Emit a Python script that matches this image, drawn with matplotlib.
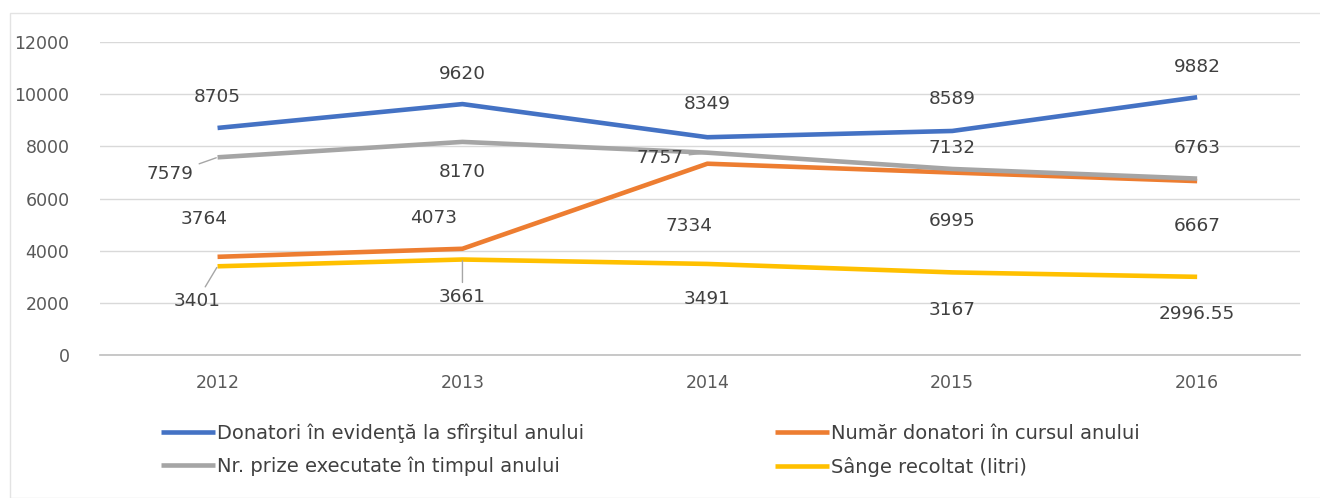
import matplotlib.pyplot as plt
from matplotlib.patches import Rectangle

years = ["2012", "2013", "2014", "2015", "2016"]
donatori_evidenta = [8705, 9620, 8349, 8589, 9882]
numar_donatori = [3764, 4073, 7334, 6995, 6667]
nr_prize = [7579, 8170, 7757, 7132, 6763]
sange_litri = [3401, 3661, 3491, 3167, 2996.55]
yticks = [0, 2000, 4000, 6000, 8000, 10000, 12000]

series = [
    ("Donatori în evidenţă la sfîrşitul anului", donatori_evidenta, "#4472C4"),
    ("Număr donatori în cursul anului", numar_donatori, "#ED7D31"),
    ("Nr. prize executate în timpul anului", nr_prize, "#A5A5A5"),
    ("Sânge recoltat (litri)", sange_litri, "#FFC000"),
]

# label offsets in points (dx, dy) and whether a leader line is drawn
offsets = {
    0: [(0, 22, 0), (0, 22, 0), (0, 24, 0), (0, 23, 0), (0, 22, 0)],
    1: [(-10, 27, 0), (-21, 22, 0), (-13, -45, 0), (0, -35, 0), (0, -32, 0)],
    2: [(-34, -12, 1), (0, -22, 0), (-34, -4, 1), (0, 15, 0), (0, 22, 0)],
    3: [(-15, -25, 1), (0, -27, 1), (0, -25, 0), (0, -27, 0), (0, -27, 0)],
}

plt.rcParams['font.family'] = ['DejaVu Sans']

fig = plt.figure(figsize=(13.2, 4.98), dpi=100)
fig.patches.append(Rectangle((10 / 1320, 0), 1.0, 1 - 13 / 498, transform=fig.transFigure,
                             fill=False, edgecolor="#e3e3e3", linewidth=1))
ax = fig.add_axes([100 / 1320, 1 - 355 / 498, 1200 / 1320, 313 / 498])

x = list(range(len(years)))
handles = []
for i, (name, vals, col) in enumerate(series):
    h, = ax.plot(x, vals, color=col, linewidth=3.3, solid_capstyle="butt", label=name, zorder=3)
    handles.append(h)
    for j, v in enumerate(vals):
        dx, dy, lead = offsets[i][j]
        txt = f"{v:.2f}" if isinstance(v, float) else str(v)
        ax.annotate(txt, (j, v), xytext=(dx, dy), textcoords="offset points",
                    ha="center", va="center", fontsize=13.3, color="#404040",
                    arrowprops=dict(arrowstyle="-", color="#a6a6a6", lw=1, shrinkA=2, shrinkB=1) if lead else None,
                    zorder=4)

ax.set_xlim(-0.48, 4.42)
ax.set_ylim(0, 12000)
ax.set_yticks(yticks)
ax.set_yticklabels([str(t) for t in yticks], fontsize=12.5, color="#595959")
ax.set_xticks(x)
ax.set_xticklabels(years, fontsize=12.5, color="#595959")
ax.tick_params(axis="both", length=0)
ax.tick_params(axis="y", pad=22)
ax.tick_params(axis="x", pad=14)
ax.grid(axis="y", color="#d9d9d9", linewidth=1)
ax.set_axisbelow(True)
for s in ["top", "right", "left"]:
    ax.spines[s].set_visible(False)
ax.spines["bottom"].set_color("#bfbfbf")
ax.spines["bottom"].set_linewidth(1.2)

# legend is filled column-wise, so reorder to read row-wise like the original
order = [0, 2, 1, 3]
fig.legend([handles[k] for k in order], [series[k][0] for k in order], ncol=2, loc="upper left",
           bbox_to_anchor=(143 / 1320, 1 - 406 / 498), frameon=False,
           fontsize=14, handlelength=2.8, handletextpad=0.1, columnspacing=9.8,
           labelspacing=0.7, labelcolor="#404040")

fig.savefig("out.png", dpi=100)
